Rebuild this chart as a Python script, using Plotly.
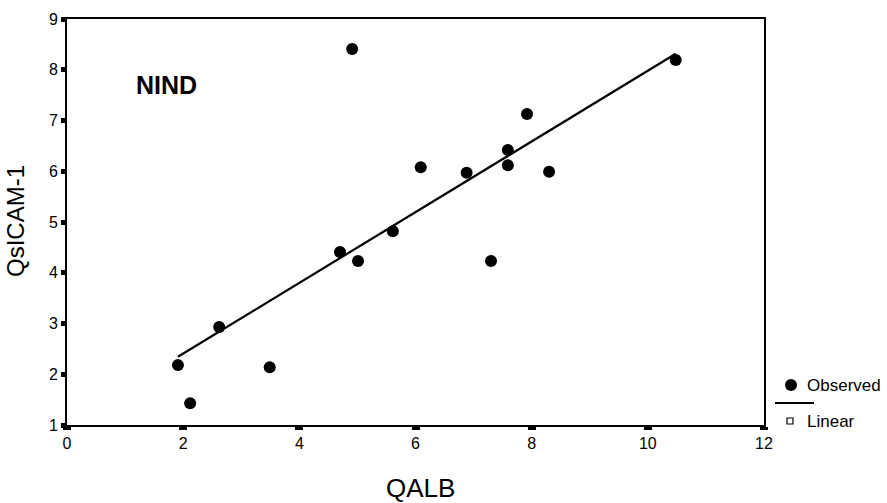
import numpy as np
import plotly.graph_objects as go

qalb = [1.91, 2.12, 2.62, 3.49, 4.70, 4.91, 5.01, 5.61, 6.09, 6.88, 7.30, 7.59, 7.59, 7.92, 8.30, 10.48]
qsicam = [2.18, 1.43, 2.93, 2.14, 4.41, 8.41, 4.23, 4.82, 6.08, 5.97, 4.23, 6.42, 6.12, 7.13, 5.99, 8.19]

x_ticks = [0, 2, 4, 6, 8, 10, 12]
y_ticks = [1, 2, 3, 4, 5, 6, 7, 8, 9]

group_label = "NIND"
x_title = "QALB"
y_title = "QsICAM-1"
legend_labels = ["Observed", "Linear"]

# Linear fit
slope, intercept = np.polyfit(qalb, qsicam, 1)
fit_x = [min(qalb), max(qalb)]
fit_y = [intercept + slope * v for v in fit_x]

FONT = "Arial, Liberation Sans, sans-serif"

fig = go.Figure()
fig.add_trace(go.Scatter(x=fit_x, y=fit_y, mode="lines",
                         line=dict(color="black", width=2.2), showlegend=False, hoverinfo="skip"))
fig.add_trace(go.Scatter(x=qalb, y=qsicam, mode="markers",
                         marker=dict(color="black", size=12), showlegend=False))

W, H = 887, 503
# plot area in page pixels
L, R, T, B = 67, 764, 19, 425
pw, ph = R - L, B - T

def px(x):
    return (x - L) / pw

def py(y):
    return (B - y) / ph

fig.update_layout(
    width=W, height=H,
    margin=dict(l=L, r=W - R, t=T, b=H - B),
    paper_bgcolor="white", plot_bgcolor="white",
    font=dict(family=FONT, color="black", size=16),
    xaxis=dict(range=[0, 12], tickvals=x_ticks, ticktext=[str(v) for v in x_ticks],
               showgrid=False, zeroline=False, showline=True, linecolor="black", linewidth=2,
               mirror=True, ticks="outside", ticklen=3, tickwidth=8, tickcolor="black",
               tickfont=dict(size=16, family=FONT)),
    yaxis=dict(range=[1, 9], tickvals=y_ticks, ticktext=[str(v) for v in y_ticks],
               showgrid=False, zeroline=False, showline=True, linecolor="black", linewidth=2,
               mirror=True, ticks="outside", ticklen=4, tickwidth=5, tickcolor="black",
               tickfont=dict(size=16, family=FONT)),
    showlegend=False,
)

annotations = [
    dict(text=f"<b>{group_label}</b>", x=px(134), y=py(85), xref="paper", yref="paper",
         xanchor="left", yanchor="middle", showarrow=False, font=dict(size=25, family=FONT)),
    dict(text=x_title, x=px(420), y=py(488), xref="paper", yref="paper",
         xanchor="center", yanchor="middle", showarrow=False, font=dict(size=26, family=FONT)),
    dict(text=y_title, x=px(16), y=py(221), xref="paper", yref="paper", textangle=-90,
         xanchor="center", yanchor="middle", showarrow=False, font=dict(size=24, family=FONT)),
    dict(text=legend_labels[0], x=px(805), y=py(385), xref="paper", yref="paper",
         xanchor="left", yanchor="middle", showarrow=False, font=dict(size=17, family=FONT)),
    dict(text=legend_labels[1], x=px(805), y=py(421), xref="paper", yref="paper",
         xanchor="left", yanchor="middle", showarrow=False, font=dict(size=17, family=FONT)),
]
fig.update_layout(annotations=annotations)

shapes = [
    dict(type="circle", xref="paper", yref="paper", xsizemode="pixel", ysizemode="pixel",
         xanchor=px(791), yanchor=py(385), x0=-6, x1=6, y0=-6, y1=6,
         fillcolor="black", line=dict(color="black", width=0)),
    dict(type="line", xref="paper", yref="paper", x0=px(775), x1=px(814), y0=py(403), y1=py(403),
         line=dict(color="black", width=1.8)),
    dict(type="rect", xref="paper", yref="paper", xsizemode="pixel", ysizemode="pixel",
         xanchor=px(790), yanchor=py(421), x0=-3, x1=3, y0=-3, y1=3,
         fillcolor="white", line=dict(color="black", width=1.2)),
]
fig.update_layout(shapes=shapes)

fig.write_html("out.html", config={"displayModeBar": False},
               post_script="document.body.style.margin='0';")
